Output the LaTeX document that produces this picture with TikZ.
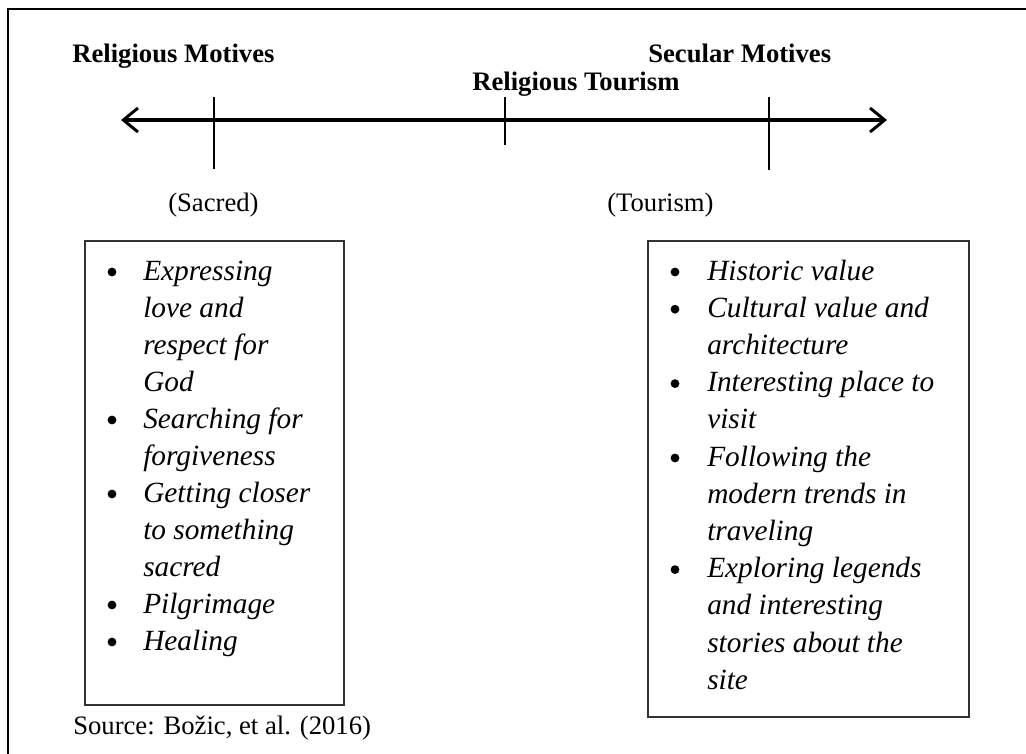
\documentclass[tikz,border=0pt]{standalone}
\usepackage{fontspec}
\setmainfont{Liberation Serif}
\usetikzlibrary{arrows.meta}
\tikzset{
  frameline/.style={line width=2.2pt, black},
  axisline/.style={line width=2.4pt, black, {Straight Barb[length=11pt,width=18pt,line width=2.2pt]}-{Straight Barb[length=11pt,width=18pt,line width=2.2pt]}},
  tickline/.style={line width=1.9pt, black},
  listbox/.style={line width=1.1pt, black!80},
  heading/.style={font=\fontsize{20}{24}\selectfont\bfseries, inner sep=0pt, anchor=base west},
  plain/.style={font=\fontsize{20}{24}\selectfont, inner sep=0pt, anchor=base west},
  itemline/.style={font=\fontsize{22}{27.75}\selectfont\itshape, inner sep=0pt, anchor=base west},
  bul/.style={circle, fill=black, inner sep=0pt, minimum size=6.6pt},
}
\begin{document}
\begin{tikzpicture}[x=0.75pt,y=-0.75pt]
\useasboundingbox (0,0) rectangle (1026,754);
\clip (0,0) rectangle (1026,754);
% outer frame (top and left edges visible)
\coordinate (fTR) at (1040,9);
\coordinate (fTL) at (8,9);
\coordinate (fBL) at (8,770);
\draw[frameline] (fTR) -- (fTL) -- (fBL);
% headings
\node[heading] (relmot) at (72,62) {Religious Motives};
\node[heading] (secmot) at (648,62) {Secular Motives};
\node[heading] (reltour) at (472,90) {Religious Tourism};
% axis
\coordinate (axL) at (121,120);
\coordinate (axR) at (887,120);
\draw[axisline] (axL) -- (axR);
% ticks
\coordinate (t1a) at (214,97); \coordinate (t1b) at (214,169);
\coordinate (t2a) at (505,97); \coordinate (t2b) at (505,145);
\coordinate (t3a) at (769,97); \coordinate (t3b) at (769,170);
\draw[tickline] (t1a) -- (t1b);
\draw[tickline] (t2a) -- (t2b);
\draw[tickline] (t3a) -- (t3b);
% sub labels
\node[plain] (sacred) at (168,211) {(Sacred)};
\node[plain] (tourism) at (607,211) {(Tourism)};
% boxes
\draw[listbox] (85,241) rectangle (344,705);
\draw[listbox] (648,241) rectangle (969,717);
% left list lines
\foreach \k/\t in {0/Expressing, 1/love and, 2/respect for, 3/God, 4/Searching for, 5/forgiveness, 6/Getting closer, 7/to something, 8/sacred, 9/Pilgrimage, 10/Healing}
  \node[itemline] (l\k) at (143,{280+37*\k}) {\t};
\foreach \k in {0,4,6,9,10}
  \node[bul] (lb\k) at (112,{272+37*\k}) {};
% right list lines
\foreach \k/\t in {0/Historic value, 1/Cultural value and, 2/architecture, 3/Interesting place to, 4/visit, 5/Following the, 6/modern trends in, 7/traveling, 8/Exploring legends, 9/and interesting, 10/stories about the, 11/site}
  \node[itemline] (r\k) at (707,{280+37.2*\k}) {\t};
\foreach \k in {0,1,3,5,8}
  \node[bul] (rb\k) at (675,{272+37.2*\k}) {};
% source
\node[plain] (source) at (73,734) {Source: Božic, et al. (2016)};
\end{tikzpicture}
\end{document}
